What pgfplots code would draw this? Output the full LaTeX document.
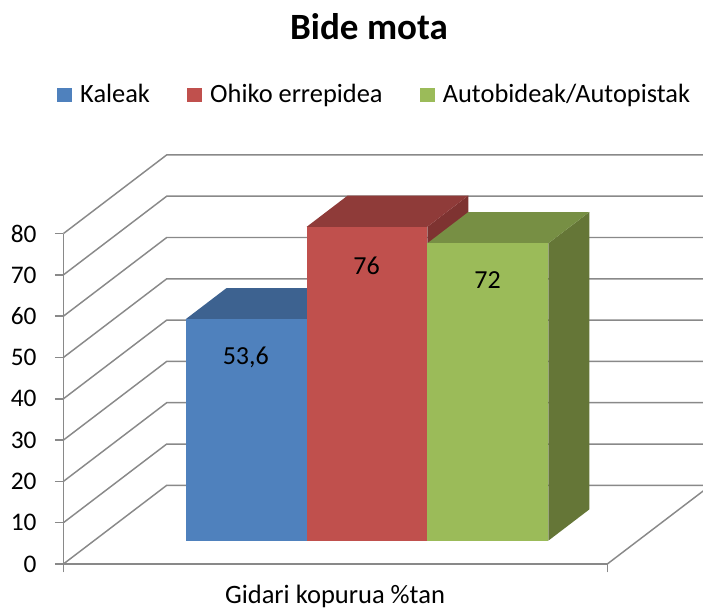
\documentclass[border=0pt]{standalone}
\usepackage{pgfplots}
\pgfplotsset{compat=1.18}
\usepackage{fontspec}
\setmainfont{Carlito}
\definecolor{gridc}{HTML}{898989}
\definecolor{blueF}{HTML}{4F81BD}
\definecolor{blueT}{HTML}{3D6290}
\definecolor{blueS}{HTML}{385D8A}
\definecolor{redF}{HTML}{C0504D}
\definecolor{redT}{HTML}{8F3B39}
\definecolor{redS}{HTML}{7E3331}
\definecolor{greenF}{HTML}{9BBB59}
\definecolor{greenT}{HTML}{778F44}
\definecolor{greenS}{HTML}{657637}
\begin{document}
\begin{tikzpicture}
\begin{axis}[
  scale only axis,
  width=407.9pt, height=247.8pt,
  xmin=63.4, xmax=607.3, ymin=0, ymax=80,
  clip=false,
  axis lines*=left,
  axis line style={gridc, line width=1.1pt},
  tick style={gridc, line width=1.1pt},
  tick align=outside,
  major tick length=6.3pt,
  xtick={63.4,607.3}, xticklabels={},
  ytick={0,10,...,80},
  /pgf/number format/assume math mode=true,
  yticklabel style={font=\fontsize{19}{22}\selectfont, inner sep=0pt, anchor=east, xshift=-13.7pt},
  legend columns=-1,
  legend style={draw=none, fill=none, at={(axis cs:57,113.6)}, anchor=west,
    font=\fontsize{19.8}{22}\selectfont, inner sep=0pt,
    /tikz/every odd column/.append style={column sep=4.6pt},
    /tikz/every even column/.append style={column sep=26pt}},
]
% back and side wall gridlines
\addplot[gridc, line width=1.1pt, forget plot] coordinates {(63.4,0)(166.7,19.05)(712,19.05)};
\addplot[gridc, line width=1.1pt, forget plot] coordinates {(63.4,10)(166.7,29.05)(712,29.05)};
\addplot[gridc, line width=1.1pt, forget plot] coordinates {(63.4,20)(166.7,39.05)(712,39.05)};
\addplot[gridc, line width=1.1pt, forget plot] coordinates {(63.4,30)(166.7,49.05)(712,49.05)};
\addplot[gridc, line width=1.1pt, forget plot] coordinates {(63.4,40)(166.7,59.05)(712,59.05)};
\addplot[gridc, line width=1.1pt, forget plot] coordinates {(63.4,50)(166.7,69.05)(712,69.05)};
\addplot[gridc, line width=1.1pt, forget plot] coordinates {(63.4,60)(166.7,79.05)(712,79.05)};
\addplot[gridc, line width=1.1pt, forget plot] coordinates {(63.4,70)(166.7,89.05)(712,89.05)};
\addplot[gridc, line width=1.1pt, forget plot] coordinates {(63.4,80)(166.7,99.05)(712,99.05)};
% floor right edge
\addplot[gridc, line width=1.1pt, forget plot] coordinates {(607.3,0)(710.6,19.05)};

% Kaleak 53.6
\addplot[fill=blueS, draw=none, yshift=17.47pt, forget plot] coordinates {(306.7,0)(347.7,7.57)(347.7,61.17)(306.7,53.6)} --cycle;
\addplot[fill=blueT, draw=none, yshift=17.47pt, forget plot] coordinates {(185.5,53.6)(306.7,53.6)(347.7,61.17)(226.5,61.17)} --cycle;
\addplot[ybar, bar width=121.2, bar shift=0pt, fill=blueF, draw=none, yshift=17.47pt, forget plot] coordinates {(246.1,53.6)};
% Ohiko errepidea 76
\addplot[fill=redS, draw=none, yshift=17.47pt, forget plot] coordinates {(427.3,0)(468.3,7.57)(468.3,83.57)(427.3,76)} --cycle;
\addplot[fill=redT, draw=none, yshift=17.47pt, forget plot] coordinates {(306.7,76)(427.3,76)(468.3,83.57)(347.7,83.57)} --cycle;
\addplot[ybar, bar width=120.6, bar shift=0pt, fill=redF, draw=none, yshift=17.47pt, forget plot] coordinates {(367.0,76)};
% Autobideak/Autopistak 72
\addplot[fill=greenS, draw=none, yshift=17.47pt, forget plot] coordinates {(548.3,0)(589.3,7.57)(589.3,79.57)(548.3,72)} --cycle;
\addplot[fill=greenT, draw=none, yshift=17.47pt, forget plot] coordinates {(427.3,72)(548.3,72)(589.3,79.57)(468.3,79.57)} --cycle;
\addplot[ybar, bar width=121.0, bar shift=0pt, fill=greenF, draw=none, yshift=17.47pt, forget plot] coordinates {(487.8,72)};

% data labels
\node[anchor=base, font=\fontsize{19.5}{22}\selectfont] at (axis cs:245.8,48.35) {53,6};
\node[anchor=base, font=\fontsize{19.5}{22}\selectfont] at (axis cs:366.5,69.98) {76};
\node[anchor=base, font=\fontsize{19.5}{22}\selectfont] at (axis cs:487.5,66.59) {72};

% legend
\addlegendimage{legend image code/.code={\fill[blueF] (0pt,-5pt) rectangle (10.2pt,5pt);}}
\addlegendentry{Kaleak}
\addlegendimage{legend image code/.code={\fill[redF] (0pt,-5pt) rectangle (10.2pt,5pt);}}
\addlegendentry{Ohiko errepidea}
\addlegendimage{legend image code/.code={\fill[greenF] (0pt,-5pt) rectangle (10.2pt,5pt);}}
\addlegendentry{Autobideak/Autopistak}

% title and axis label
\node[anchor=base, font=\bfseries\fontsize{27.8}{32}\selectfont] at (axis cs:369,126.88) {Bide mota};
\node[anchor=base, font=\fontsize{19.9}{22}\selectfont] at (axis cs:335,-9.56) {Gidari kopurua \%tan};

\coordinate (bbsw) at (axis cs:0,-10.896);
\coordinate (bbne) at (axis cs:703,136.56);
\end{axis}
\pgfresetboundingbox
\useasboundingbox (bbsw) rectangle (bbne);
\end{tikzpicture}
\end{document}
